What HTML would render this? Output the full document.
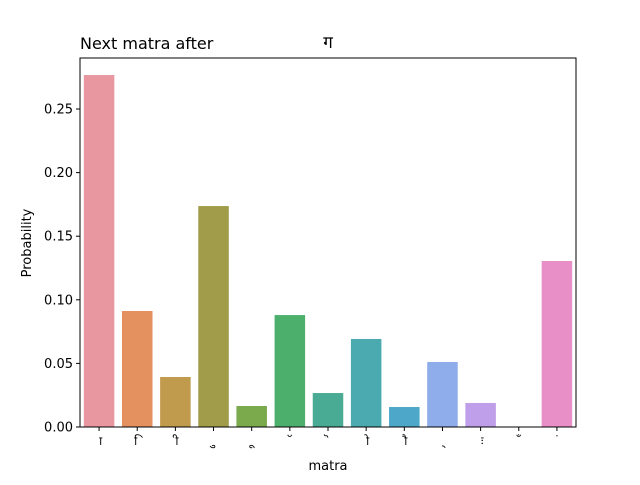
<!DOCTYPE html>
<html><head><meta charset="utf-8"><style>
body{margin:0;background:#fff}
svg text{font-family:"DejaVu Sans","Liberation Sans",sans-serif;fill:#000}
</style></head><body>
<svg id="c" width="640" height="480"></svg>
<script>
const categories=["ा","ि","ी","ु","ू","ॅ","ॆ","ो","ौ","्","ः","ँ","ं"];
const values=[0.2767,0.0912,0.0393,0.1737,0.0165,0.088,0.0267,0.0692,0.0157,0.0511,0.0189,0,0.1305];
const colors=["#e8969f","#e5915f","#c09a4d","#a09c4a","#7aaa4c","#4caf6c","#4aab94","#4aaab0","#4ca7c8","#8fadea","#c09fea","#e19ae1","#e88fc8"];
const yTicks=[0,0.05,0.10,0.15,0.20,0.25];
const yTickLabels=["0.00","0.05","0.10","0.15","0.20","0.25"];
const NS="http://www.w3.org/2000/svg";
const svg=document.getElementById('c');
const L=80,R=576,T=58,B=427;
const y=v=>B-v*(B-109)/0.25;
const step=(R-L)/categories.length;
const x=i=>L+step*(i+0.5);
function mk(t,a,p){const e=document.createElementNS(NS,t);for(const k in a)e.setAttribute(k,a[k]);(p||svg).appendChild(e);return e;}
values.forEach((v,i)=>{
 const r=mk('rect',{x:x(i)-step*0.4,y:y(v),width:step*0.8,height:B-y(v),fill:colors[i]});
 
 
 mk('line',{x1:x(i),x2:x(i),y1:B,y2:B+4,stroke:'#000'});
 const t=mk('text',{x:x(i),y:B+18,'font-size':12,'text-anchor':'middle'});
 t.textContent='\u00a0'+categories[i];
 
 
});
yTicks.forEach((v,i)=>{
 mk('line',{x1:L-4,x2:L,y1:y(v),y2:y(v),stroke:'#000'});
 const t=mk('text',{x:L-7,y:y(v)+4.5,'font-size':13,'text-anchor':'end'});
 t.textContent=yTickLabels[i];
 
 
});
const f=mk('rect',{x:L,y:T,width:R-L,height:B-T,fill:'none',stroke:'#000','stroke-width':1});


</script>
<div style="position:absolute;left:0;top:0;width:640px;height:480px;pointer-events:none">
<svg width="640" height="480">
<text x="80" y="49" font-size="16">Next matra after</text>
<text x="328" y="48" font-size="17" text-anchor="middle">ग</text>
<text x="328" y="470" font-size="13" text-anchor="middle">matra</text>
<text x="31" y="243" font-size="13" text-anchor="middle" transform="rotate(-90 31 243)">Probability</text>
</svg></div>
</body></html>
